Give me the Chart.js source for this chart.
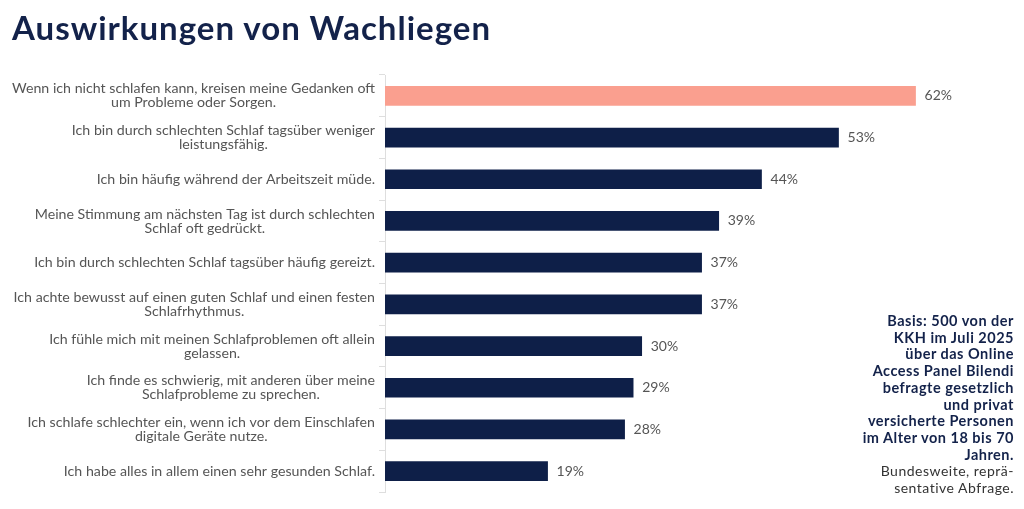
<!DOCTYPE html>
<html>
<head>
<meta charset="utf-8">
<script src="https://cdn.jsdelivr.net/npm/chart.js@4"></script>
<style>
  body { margin: 0; background: #fff; }
  #wrap { position: relative; width: 1024px; height: 509px; }
  #titel {
    position: absolute; left: 12px; top: 7px; margin: 0;
    font-family: Lato, sans-serif; font-weight: 700; font-size: 33px;
    letter-spacing: 1px; color: #13224a;
  }
  #basis {
    position: absolute; right: 10px; top: 313px;
    font-family: Lato, sans-serif; font-size: 14.5px; line-height: 16.7px;
    letter-spacing: 0.5px; text-align: right; color: #13224a;
  }
  #basis b { font-weight: 700; }
  #basis span { color: #333; font-size: 14px; }
</style>
</head>
<body>
<div id="wrap">
  <h1 id="titel">Auswirkungen von Wachliegen</h1>
  <canvas id="grafik" width="1024" height="509"></canvas>
  <div id="basis">
    <b>Basis: 500 von der<br>KKH im Juli 2025<br>über das Online<br>Access Panel Bilendi<br>befragte gesetzlich<br>und privat<br>versicherte Personen<br>im Alter von 18 bis 70<br>Jahren.</b><br>
    <span>Bundesweite, reprä-<br>sentative Abfrage.</span>
  </div>
</div>
<script>
// Aussagen (zweizeilige als Arrays)
const aussagen = [
  ["Wenn ich nicht schlafen kann, kreisen meine Gedanken oft", "um Probleme oder Sorgen."],
  ["Ich bin durch schlechten Schlaf tagsüber weniger", "leistungsfähig."],
  ["Ich bin häufig während der Arbeitszeit müde."],
  ["Meine Stimmung am nächsten Tag ist durch schlechten", "Schlaf oft gedrückt."],
  ["Ich bin durch schlechten Schlaf tagsüber häufig gereizt."],
  ["Ich achte bewusst auf einen guten Schlaf und einen festen", "Schlafrhythmus."],
  ["Ich fühle mich mit meinen Schlafproblemen oft allein", "gelassen."],
  ["Ich finde es schwierig, mit anderen über meine", "Schlafprobleme zu sprechen."],
  ["Ich schlafe schlechter ein, wenn ich vor dem Einschlafen", "digitale Geräte nutze."],
  ["Ich habe alles in allem einen sehr gesunden Schlaf."]
];
const anteile = [62, 53, 44, 39, 37, 37, 30, 29, 28, 19];
const balkenFarben = ["#fa9f8f", "#0e1f48", "#0e1f48", "#0e1f48", "#0e1f48",
                      "#0e1f48", "#0e1f48", "#0e1f48", "#0e1f48", "#0e1f48"];

// Beschriftungen links (Zeilen zentriert, Block rechtsbündig) und Prozentwerte
const beschriftung = {
  id: "beschriftung",
  afterDraw(chart) {
    const ctx = chart.ctx;
    const y = chart.scales.y;
    const meta = chart.getDatasetMeta(0);
    ctx.save();
    ctx.font = "14.2px Lato, sans-serif";
    ctx.fillStyle = "#555555";
    ctx.textBaseline = "middle";
    ctx.textAlign = "center";
    aussagen.forEach(function (zeilen, i) {
      const mitte = y.getPixelForValue(i);
      let breite = 0;
      zeilen.forEach(function (z) { breite = Math.max(breite, ctx.measureText(z).width); });
      const cx = 375 - breite / 2;
      const start = mitte - (zeilen.length - 1) * 7;
      zeilen.forEach(function (z, j) { ctx.fillText(z, cx, start + j * 14); });
    });
    ctx.font = "14px Lato, sans-serif";
    ctx.textAlign = "left";
    meta.data.forEach(function (bar, i) {
      ctx.fillText(anteile[i] + "%", bar.x + 9, bar.y);
    });
    ctx.restore();
  }
};

new Chart(document.getElementById("grafik"), {
  type: "bar",
  data: {
    labels: aussagen,
    datasets: [{
      data: anteile,
      backgroundColor: balkenFarben,
      barThickness: 19
    }]
  },
  options: {
    indexAxis: "y",
    responsive: false,
    animation: false,
    layout: { padding: { top: 75, bottom: 17, right: 40, left: 0 } },
    plugins: { legend: { display: false }, tooltip: { enabled: false } },
    scales: {
      x: { display: false, min: 0, max: 70 },
      y: {
        ticks: { callback: function () { return ""; } },
        grid: { drawOnChartArea: false, tickLength: 6, color: "#dedede", offset: true },
        border: { color: "#dedede" },
        afterFit: function (scale) { scale.width = 385; }
      }
    }
  },
  plugins: [beschriftung]
});
</script>
</body>
</html>
